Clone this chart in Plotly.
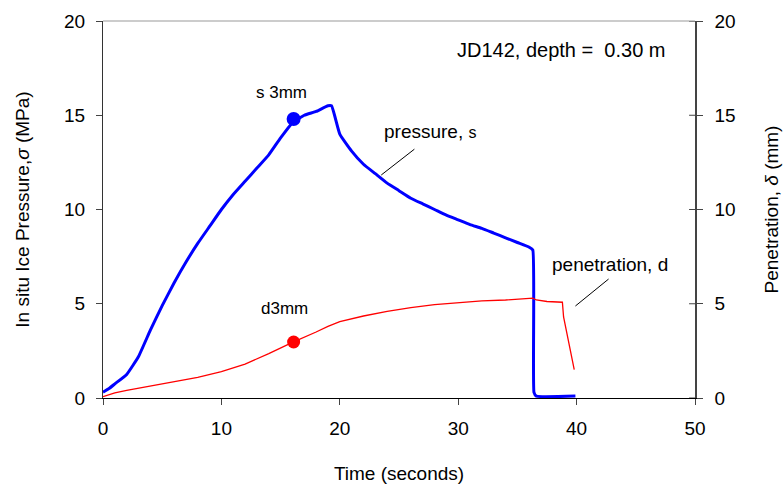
import plotly.graph_objects as go

# Pressure series (MPa)
p_time = [0, 0.5, 1, 2, 3, 4, 5, 6, 7, 8, 9, 10, 11, 12, 13, 14, 15, 16, 17, 18, 19, 19.3,
          20, 21, 22, 23, 24, 25, 26, 27, 28, 29, 30, 31, 32, 33, 34, 35, 36, 36.3,
          36.4, 36.6, 39.9]
p_val = [0.3, 0.5, 0.75, 1.25, 2.2, 3.6, 4.9, 6.1, 7.2, 8.2, 9.1, 10.0, 10.8, 11.5, 12.2, 12.9, 13.8, 14.6,
         15.0, 15.2, 15.5, 15.5,
         14.0, 13.1, 12.4, 11.9, 11.4, 11.0, 10.6, 10.3, 10.0, 9.7, 9.45, 9.2, 9.0, 8.75, 8.5, 8.25, 8.0, 7.85,
         0.3, 0.1, 0.1]

# Penetration series (mm)
d_time = [0, 0.5, 1, 2, 3, 4, 6, 8, 10, 12, 14, 16, 18, 19, 20, 22, 24, 26, 28, 30, 32, 34, 35, 35.5,
          36.3, 36.6, 37.5, 38.8, 38.9, 39.8]
d_val = [0.07, 0.18, 0.27, 0.4, 0.52, 0.62, 0.85, 1.1, 1.4, 1.8, 2.35, 2.95, 3.5, 3.8, 4.05, 4.35, 4.6, 4.8,
         4.95, 5.05, 5.15, 5.2, 5.25, 5.3, 5.3, 5.2, 5.12, 5.08, 4.3, 1.5]

# 3 mm markers
mark_time = [16.1]
mark_p = [14.8]
mark_d = [2.97]

x_ticks = [0, 10, 20, 30, 40, 50]
y_ticks = [0, 5, 10, 15, 20]

FONT = "Liberation Sans, Arial, sans-serif"

fig = go.Figure()
fig.add_trace(go.Scatter(x=p_time, y=p_val, mode="lines",
                         line=dict(color="#0000ff", width=3, shape="spline", smoothing=0.4),
                         showlegend=False))
fig.add_trace(go.Scatter(x=d_time, y=d_val, mode="lines",
                         line=dict(color="#ff0000", width=1.3), showlegend=False, yaxis="y2"))
fig.add_trace(go.Scatter(x=mark_time, y=mark_p, mode="markers",
                         marker=dict(color="#0000ff", size=14), showlegend=False))
fig.add_trace(go.Scatter(x=mark_time, y=mark_d, mode="markers",
                         marker=dict(color="#ff0000", size=13), showlegend=False, yaxis="y2"))

fig.update_layout(
    width=784, height=491,
    margin=dict(l=102.5, r=89, t=21, b=93, autoexpand=False),
    paper_bgcolor="white", plot_bgcolor="white",
    font=dict(family=FONT, size=19, color="black"),
    xaxis=dict(range=[0, 50], tickvals=x_ticks, ticks="outside", ticklen=6, ticklabelstandoff=7,
               showgrid=False, zeroline=False, showline=True, linecolor="black", linewidth=1.2,
               tickfont=dict(size=19), automargin=False,
               title=dict(text="Time (seconds)", font=dict(size=19), standoff=28)),
    yaxis=dict(range=[0, 20], tickvals=y_ticks, ticks="outside", ticklen=6, ticklabelstandoff=7,
               showgrid=False, zeroline=False, showline=True, linecolor="#333333", linewidth=1.2,
               tickfont=dict(size=19), automargin=False,
               title=dict(text="In situ Ice Pressure,<i>σ</i> (MPa)", font=dict(size=19), standoff=29)),
    yaxis2=dict(range=[0, 20], tickvals=y_ticks, ticks="outside", ticklen=6, ticklabelstandoff=8,
                overlaying="y", side="right", automargin=False,
                showgrid=False, zeroline=False, showline=True, linecolor="#444444", linewidth=1.5,
                tickfont=dict(size=19),
                title=dict(text="Penetration, <i>δ</i> (mm)", font=dict(size=19), standoff=30)),
)

# top border
fig.add_shape(type="line", xref="paper", yref="paper", x0=0, x1=1, y0=1, y1=1,
              line=dict(color="#999999", width=1))
# inside parts of right ticks
for v in y_ticks:
    fig.add_shape(type="line", xref="x", yref="y", x0=49.5, x1=50, y0=v, y1=v,
                  line=dict(color="#444444", width=1))

# leader lines
fig.add_shape(type="line", xref="x", yref="y", x0=23.5, y0=11.83, x1=26.3, y1=13.2,
              line=dict(color="black", width=1))
fig.add_shape(type="line", xref="x", yref="y", x0=39.9, y0=4.88, x1=42.7, y1=6.31,
              line=dict(color="black", width=1))

ann = [
    (15.1, 16.23, "s <span style='font-size:17px'>3mm</span>", 17),
    (15.3, 4.77, "d3mm", 17),
    (27.6, 14.16, "pressure, <span style='font-size:16px'>s</span>", 19),
    (42.8, 7.1, "penetration, d", 19),
    (38.7, 18.45, "JD142, depth =  0.30 m", 20),
]
for x, y, t, s in ann:
    fig.add_annotation(x=x, y=y, xref="x", yref="y", text=t, showarrow=False,
                       font=dict(family=FONT, size=s, color="black"))

fig.write_html("out.html")
